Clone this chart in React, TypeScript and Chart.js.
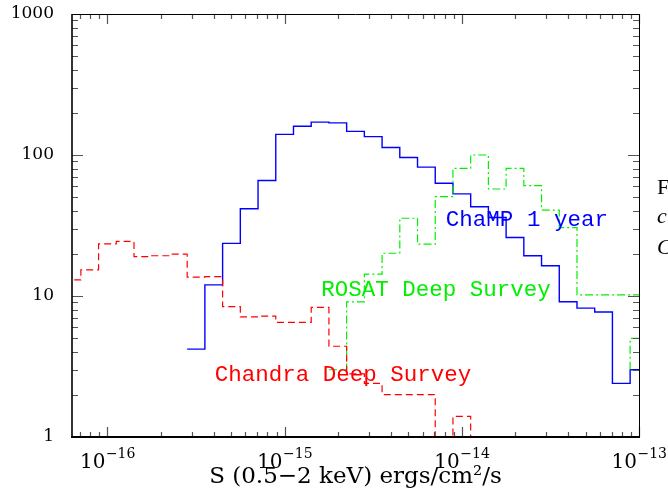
import React, { useEffect, useRef } from "react";
import { Chart, registerables } from "chart.js";

Chart.register(...registerables);

// Histogram bin edges (log10 of flux, ergs/cm^2/s)
const BIN_EDGES = [
  -16.25, -16.15, -16.05, -15.95, -15.85, -15.75, -15.65, -15.55, -15.45, -15.35,
  -15.25, -15.15, -15.05, -14.95, -14.85, -14.75, -14.65, -14.55, -14.45, -14.35,
  -14.25, -14.15, -14.05, -13.95, -13.85, -13.75, -13.65, -13.55, -13.45, -13.35,
  -13.25, -13.15, -13.05, -12.95,
];

// ChaMP 1 year (blue, solid) — first bin starts at BIN_EDGES[7]
const CHAMP_START = 7;
const CHAMP_COUNTS = [
  4.2, 12, 23.6, 41.6, 66, 140, 160, 171, 169, 147, 135, 113, 96, 82, 63, 53, 43, 36,
  26, 19.3, 16.4, 9.1, 8.2, 7.7, 2.4, 3.0,
];

// ROSAT Deep Survey (green, dash-dot) — first bin starts at BIN_EDGES[15]
const ROSAT_START = 15;
const ROSAT_COUNTS = [
  3.0, 9.1, 14.3, 20.1, 35.6, 23.3, 50.6, 80.5, 100, 57.4, 80.5, 60.6, 40.7, 30.5,
  10.2, 10.2, 10.2, 10.2,
];
// ROSAT extra last bin (drawn from a base level)
const ROSAT_TAIL_START = 32;
const ROSAT_TAIL_BASE = 3.0;
const ROSAT_TAIL = [5.0];

// Chandra Deep Survey (red, dashed) — first bin starts at BIN_EDGES[0]; 0 = empty bin
const CHANDRA_START = 0;
const CHANDRA_COUNTS = [
  13.0, 15.3, 23.4, 24.4, 19.0, 19.3, 19.8, 13.6, 13.7, 8.4, 7.1, 7.2, 6.5, 6.5, 8.3,
  4.4, 2.8, 2.4, 2.0, 2.0, 2.0, 0, 1.4, 0,
];

const X_MIN_EXP = -16.2;
const X_MAX_EXP = -13;
const X_MAJOR_EXPS = [-16, -15, -14, -13];
const X_TICK_BASE = "10";
const X_TICK_EXP_LABELS = ["−16", "−15", "−14", "−13"];
const Y_MAJOR = [1, 10, 100, 1000];
const Y_TICK_LABELS = ["1", "10", "100", "1000"];
const X_TITLE = "S (0.5−2 keV) ergs/cm²/s";

const SERIES_LABELS = [
  { text: "ChaMP 1 year", color: "#0000ff", xExp: -14.09, y: 31.4 },
  { text: "ROSAT Deep Survey", color: "#00f000", xExp: -14.793, y: 10.0 },
  { text: "Chandra Deep Survey", color: "#ff0000", xExp: -15.395, y: 2.5 },
];

const EMPTY_LEVEL = 0.5; // below the axis floor

function histPoints(start: number, counts: number[], base?: number) {
  const pts: { x: number; y: number }[] = [];
  if (base !== undefined) pts.push({ x: 10 ** BIN_EDGES[start], y: base });
  counts.forEach((c, i) => {
    pts.push({ x: 10 ** BIN_EDGES[start + i], y: c > 0 ? c : EMPTY_LEVEL });
  });
  const last = counts[counts.length - 1];
  pts.push({ x: 10 ** BIN_EDGES[start + counts.length], y: last > 0 ? last : EMPTY_LEVEL });
  return pts;
}

const framePlugin = {
  id: "frame",
  afterDatasetsDraw(chart: any) {
    const { ctx, chartArea: a, scales } = chart;
    const xs = scales.x;
    const ys = scales.y;
    ctx.save();
    // ticks
    ctx.strokeStyle = "#555";
    ctx.lineWidth = 1.2;
    const xTick = (v: number, len: number) => {
      const px = Math.round(xs.getPixelForValue(v)) + 0.5;
      if (px < a.left - 0.5 || px > a.right + 0.5) return;
      ctx.beginPath();
      ctx.moveTo(px, a.bottom);
      ctx.lineTo(px, a.bottom - len);
      ctx.moveTo(px, a.top);
      ctx.lineTo(px, a.top + len);
      ctx.stroke();
    };
    const yTick = (v: number, len: number) => {
      const py = Math.round(ys.getPixelForValue(v)) + 0.5;
      if (py < a.top - 0.5 || py > a.bottom + 0.5) return;
      ctx.beginPath();
      ctx.moveTo(a.left, py);
      ctx.lineTo(a.left + len, py);
      ctx.moveTo(a.right, py);
      ctx.lineTo(a.right - len, py);
      ctx.stroke();
    };
    for (let e = -17; e <= -13; e++) {
      for (let m = 2; m <= 9; m++) xTick(m * 10 ** e, 5);
    }
    X_MAJOR_EXPS.forEach((e) => xTick(10 ** e, 10));
    for (let e = 0; e <= 2; e++) {
      for (let m = 2; m <= 9; m++) yTick(m * 10 ** e, 6);
    }
    Y_MAJOR.forEach((v) => yTick(v, 11));
    // frame
    ctx.strokeStyle = "#000";
    ctx.lineWidth = 1;
    ctx.beginPath();
    ctx.moveTo(a.left, a.top + 0.5);
    ctx.lineTo(a.right, a.top + 0.5);
    ctx.moveTo(a.right + 0.5, a.top);
    ctx.lineTo(a.right + 0.5, a.bottom);
    ctx.stroke();
    ctx.lineWidth = 1.6;
    ctx.beginPath();
    ctx.moveTo(a.left, a.top);
    ctx.lineTo(a.left, a.bottom);
    ctx.stroke();
    ctx.lineWidth = 2;
    ctx.beginPath();
    ctx.moveTo(a.left - 1, a.bottom);
    ctx.lineTo(a.right + 1, a.bottom);
    ctx.stroke();
    // x tick labels: 10 with superscript exponent, placed by the x scale
    ctx.fillStyle = "#000";
    ctx.textBaseline = "alphabetic";
    ctx.textAlign = "left";
    const baseFont = "20px 'DejaVu Serif'";
    const supFont = "14px 'DejaVu Serif'";
    X_MAJOR_EXPS.forEach((e, i) => {
      const cx = xs.getPixelForValue(10 ** e);
      ctx.font = baseFont;
      const wb = ctx.measureText(X_TICK_BASE).width;
      ctx.font = supFont;
      const ws = ctx.measureText(X_TICK_EXP_LABELS[i]).width;
      const x0 = cx - (wb + ws) / 2;
      const baseline = a.bottom + 31;
      ctx.font = baseFont;
      ctx.fillText(X_TICK_BASE, x0, baseline);
      ctx.font = supFont;
      ctx.fillText(X_TICK_EXP_LABELS[i], x0 + wb + 0.5, baseline - 10);
    });
    // series labels
    ctx.font = "22.5px 'Liberation Mono'";
    ctx.textAlign = "left";
    ctx.textBaseline = "alphabetic";
    SERIES_LABELS.forEach((l) => {
      ctx.fillStyle = l.color;
      ctx.fillText(l.text, xs.getPixelForValue(10 ** l.xExp), ys.getPixelForValue(l.y));
    });
    ctx.restore();
  },
};

export default function App() {
  const ref = useRef<HTMLCanvasElement>(null);
  useEffect(() => {
    if (!ref.current) return;
    const chart = new Chart(ref.current, {
      type: "line",
      data: {
        datasets: [
          {
            label: "Chandra Deep Survey",
            data: histPoints(CHANDRA_START, CHANDRA_COUNTS),
            borderColor: "#ff0000",
            borderWidth: 1.2,
            borderDash: [7, 4],
          },
          {
            label: "ROSAT Deep Survey",
            data: histPoints(ROSAT_START, ROSAT_COUNTS),
            borderColor: "#00f000",
            borderWidth: 1.2,
            borderDash: [8, 3, 2, 3],
          },
          {
            label: "ROSAT tail",
            data: histPoints(ROSAT_TAIL_START, ROSAT_TAIL, ROSAT_TAIL_BASE),
            borderColor: "#00f000",
            borderWidth: 1.2,
            borderDash: [8, 3, 2, 3],
          },
          {
            label: "ChaMP 1 year",
            data: histPoints(CHAMP_START, CHAMP_COUNTS),
            borderColor: "#0000ff",
            borderWidth: 1.4,
          },
        ],
      },
      options: {
        animation: false,
        responsive: false,
        devicePixelRatio: 1,
        parsing: false as any,
        normalized: true,
        elements: {
          point: { radius: 0, hoverRadius: 0 },
          line: { stepped: true, tension: 0, fill: false },
        },
        layout: { padding: { left: 0, right: 29, top: 14, bottom: 0 } },
        plugins: {
          legend: { display: false },
          tooltip: { enabled: false },
        },
        scales: {
          x: {
            type: "logarithmic",
            min: 10 ** X_MIN_EXP,
            max: 10 ** X_MAX_EXP,
            grid: { display: false, drawTicks: false },
            border: { display: false },
            afterBuildTicks: (s: any) => {
              s.ticks = X_MAJOR_EXPS.map((e) => ({ value: 10 ** e }));
            },
            afterFit: (s: any) => {
              s.height = 54;
              s.paddingLeft = 0;
              s.paddingRight = 0;
            },
            ticks: {
              autoSkip: false,
              maxRotation: 0,
              display: false,
            },
            title: {
              display: true,
              text: X_TITLE,
              color: "#000",
              font: { family: "'DejaVu Serif'", size: 23 },
              padding: { top: 0, bottom: 0 },
            },
          },
          y: {
            type: "logarithmic",
            min: 1,
            max: 1000,
            grid: { display: false, drawTicks: false },
            border: { display: false },
            afterBuildTicks: (s: any) => {
              s.ticks = Y_MAJOR.map((v) => ({ value: v }));
            },
            afterFit: (s: any) => {
              s.width = 72;
              s.paddingTop = 0;
              s.paddingBottom = 0;
            },
            ticks: {
              autoSkip: false,
              padding: 18,
              color: "#000",
              font: { family: "'DejaVu Serif'", size: 17 },
              callback: (_v: any, i: number) => Y_TICK_LABELS[i],
            },
          },
        },
      },
      plugins: [framePlugin],
    });
    return () => chart.destroy();
  }, []);

  const side: React.CSSProperties = {
    position: "absolute",
    left: 657,
    fontFamily: "'Liberation Serif'",
    fontSize: 22,
    lineHeight: "22px",
    color: "#000",
    whiteSpace: "nowrap",
  };

  return (
    <div
      style={{
        position: "fixed",
        left: 0,
        top: 0,
        width: 668,
        height: 491,
        overflow: "hidden",
        background: "#fff",
      }}
    >
      <canvas ref={ref} width={668} height={491} style={{ position: "absolute", left: 0, top: 0 }} />
      <div style={{ ...side, top: 176 }}>F</div>
      <div style={{ ...side, top: 205, fontStyle: "italic" }}>c</div>
      <div style={{ ...side, top: 236, fontStyle: "italic" }}>C</div>
    </div>
  );
}
